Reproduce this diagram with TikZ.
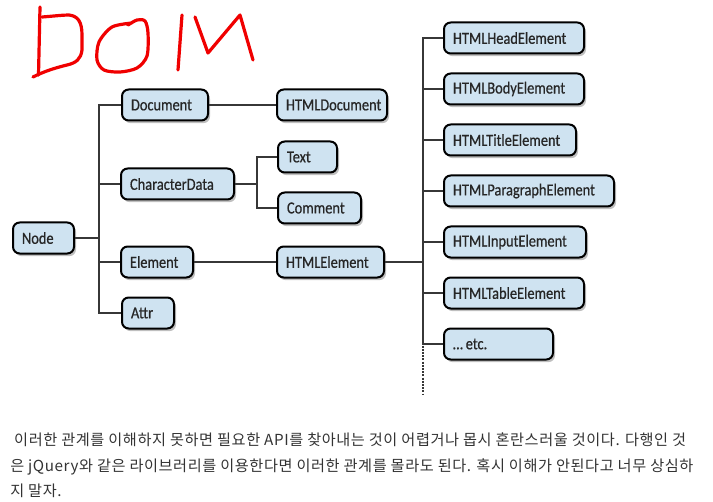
\documentclass[tikz,border=0pt]{standalone}
\usepackage{fontspec}
\newfontfamily\boxfont[FakeStretch=0.85,FakeBold=0.6]{Carlito}
\newfontfamily\krfont[LetterSpace=3.8]{Noto Sans CJK KR}
\usetikzlibrary{shadows}
\definecolor{boxfill}{RGB}{207,227,241}
\definecolor{conn}{RGB}{55,55,55}
\definecolor{txt}{RGB}{51,51,51}
\definecolor{pen}{RGB}{240,0,0}
\begin{document}
\begin{tikzpicture}[x=0.75pt,y=-0.75pt,
  cls/.style={draw=black, line width=1.5pt, fill=boxfill, rounded corners=5pt,
    minimum height=23.25pt, inner xsep=6.75pt, inner ysep=0pt,
    text width=#1, align=left, anchor=west, text=black!85,
    font=\boxfont\fontsize{12.7}{14}\selectfont,
    drop shadow={shadow xshift=1.5pt, shadow yshift=-2pt, opacity=0.25, fill=black}},
  link/.style={draw=conn, line width=1.5pt},
  stroke/.style={draw=pen, line width=2.4pt, line cap=round, line join=round},
  para/.style={anchor=base west, inner sep=0pt, text=txt, font=\krfont\fontsize{11.4}{13}\selectfont}]
\useasboundingbox (0,0) rectangle (713,502);

% handwritten DOM
\draw[stroke] (40,7) -- (38.5,75);
\draw[stroke] (42,17) .. controls (55,16) and (63,15) .. (69,15) .. controls (78,16) and (82,22) .. (82,35) -- (82,50) .. controls (81,59) and (76,63) .. (67,65) .. controls (55,68) and (45,71) .. (33,77);
\draw[stroke] plot[smooth] coordinates {(132,23) (112,27) (99,42) (97,60) (104,70) (120,72) (137,68) (147,56) (148,33) (145,21) (137,20) (128,25)};
\draw[stroke] (182,15) -- (178,70);
\draw[stroke] (195,17) -- (208,53) -- (240,15) -- (253,60);

% boxes
\node[cls=32.25pt] (node) at (12,238) {Node};
\node[cls=51pt] (document) at (121,105) {Document};
\node[cls=71.25pt] (chardata) at (120,184) {CharacterData};
\node[cls=40.5pt] (element) at (120,262) {Element};
\node[cls=25.5pt] (attr) at (121,313) {Attr};
\node[cls=69pt] (htmldoc) at (276,105) {HTMLDocument};
\node[cls=30.75pt] (text) at (277,157) {Text};
\node[cls=48.75pt] (comment) at (277,208) {Comment};
\node[cls=66.75pt] (htmlel) at (276,262) {HTMLElement};
\node[cls=91.5pt] (head) at (443,38) {HTMLHeadElement};
\node[cls=91.5pt] (body) at (443,89) {HTMLBodyElement};
\node[cls=85.5pt] (title) at (443,140) {HTMLTitleElement};
\node[cls=114pt] (paragraph) at (443,191) {HTMLParagraphElement};
\node[cls=93pt] (input) at (443,242) {HTMLInputElement};
\node[cls=91.5pt] (table) at (443,293) {HTMLTableElement};
\node[cls=68.25pt] (etc) at (443,344) {…\,etc.};

% connectors
\coordinate (t1) at (99,238);
\coordinate (t2) at (257,184);
\coordinate (t3) at (423,262);
\coordinate (t3end) at (423,394);
\draw[link] (node.east) -- (t1);
\draw[link] (document.west) -| (t1) |- (attr.west);
\draw[link] (chardata.west) -- (chardata.west -| t1);
\draw[link] (element.west) -- (element.west -| t1);
\draw[link] (document.east) -- (htmldoc.west);
\draw[link] (chardata.east) -- (t2);
\draw[link] (text.west) -| (t2) |- (comment.west);
\draw[link] (element.east) -- (htmlel.west);
\draw[link] (htmlel.east) -- (t3);
\draw[link] (head.west) -| (t3) |- (etc.west);
\draw[link] (body.west) -- (body.west -| t3);
\draw[link] (title.west) -- (title.west -| t3);
\draw[link] (paragraph.west) -- (paragraph.west -| t3);
\draw[link] (input.west) -- (input.west -| t3);
\draw[link] (table.west) -- (table.west -| t3);
\draw[link, dash pattern=on 1.5pt off 0.9pt] (etc.west -| t3) ++(0,1.5) -- (t3end);

% paragraph text
\node[para] (l1) at (10,445) {\ 이러한 관계를 이해하지 못하면 필요한 API를 찾아내는 것이 어렵거나 몹시 혼란스러울 것이다. 다행인 것};
\node[para] (l2) at (10,471) {은 jQuery와 같은 라이브러리를 이용한다면 이러한 관계를 몰라도 된다. 혹시 이해가 안된다고 너무 상심하};
\node[para] (l3) at (10,496) {지 말자.};
\end{tikzpicture}
\end{document}
